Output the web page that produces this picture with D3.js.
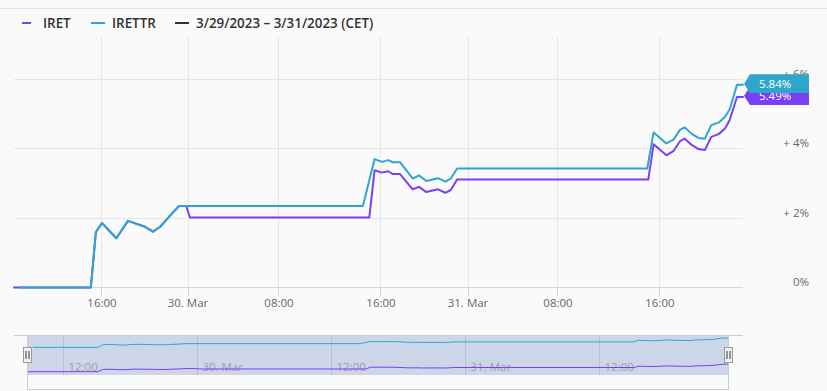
<!DOCTYPE html>
<html><head><meta charset="utf-8">
<script src="https://cdn.jsdelivr.net/npm/d3@7"></script>
<style>html,body{margin:0;padding:0;background:#fafafa;}svg{display:block}</style>
</head><body>
<svg id="c" width="827" height="391"></svg>
<script>
// ---------------- DATA ----------------
const seriesNames = ["IRET", "IRETTR"];
const legendRangeText = "3/29/2023 – 3/31/2023 (CET)";

const iretTimes = [
  "2023-03-29 08:47","2023-03-29 15:05","2023-03-29 15:30","2023-03-29 16:00","2023-03-29 17:20",
  "2023-03-29 18:25","2023-03-29 20:00","2023-03-29 20:45","2023-03-29 21:25","2023-03-29 22:30",
  "2023-03-29 23:10","2023-03-29 23:50","2023-03-30 00:10","2023-03-30 15:05","2023-03-30 15:30",
  "2023-03-30 16:05","2023-03-30 16:40","2023-03-30 17:05","2023-03-30 17:45","2023-03-30 18:55",
  "2023-03-30 19:30","2023-03-30 20:10","2023-03-30 21:15","2023-03-30 21:55","2023-03-30 22:25",
  "2023-03-30 23:00","2023-03-31 15:05","2023-03-31 15:30","2023-03-31 16:35","2023-03-31 17:15",
  "2023-03-31 17:50","2023-03-31 18:15","2023-03-31 18:55","2023-03-31 19:30","2023-03-31 20:05",
  "2023-03-31 20:40","2023-03-31 21:20","2023-03-31 21:55","2023-03-31 22:20","2023-03-31 23:00",
  "2023-03-31 23:33"];
const iretValues = [
  0, 0, 1.60, 1.86, 1.42,
  1.92, 1.75, 1.61, 1.75, 2.13,
  2.35, 2.35, 2.02, 2.02, 3.38,
  3.31, 3.35, 3.27, 3.27, 2.83,
  2.90, 2.75, 2.83, 2.73, 2.81,
  3.11, 3.11, 4.13, 3.81, 3.94,
  4.22, 4.29, 4.10, 3.99, 3.96,
  4.34, 4.42, 4.58, 4.82, 5.49,
  5.49];

const irettrTimes = [
  "2023-03-29 09:15","2023-03-29 15:05","2023-03-29 15:30","2023-03-29 16:00","2023-03-29 17:20",
  "2023-03-29 18:25","2023-03-29 20:00","2023-03-29 20:45","2023-03-29 21:25","2023-03-29 22:30",
  "2023-03-29 23:10","2023-03-29 23:50","2023-03-30 14:35","2023-03-30 15:30","2023-03-30 16:05",
  "2023-03-30 16:40","2023-03-30 17:05","2023-03-30 17:45","2023-03-30 18:55","2023-03-30 19:30",
  "2023-03-30 20:10","2023-03-30 21:15","2023-03-30 21:55","2023-03-30 22:25","2023-03-30 23:00",
  "2023-03-31 15:00","2023-03-31 15:30","2023-03-31 16:35","2023-03-31 17:15","2023-03-31 17:50",
  "2023-03-31 18:15","2023-03-31 18:55","2023-03-31 19:30","2023-03-31 20:05","2023-03-31 20:40",
  "2023-03-31 21:20","2023-03-31 21:55","2023-03-31 22:20","2023-03-31 23:00","2023-03-31 23:33"];
const irettrValues = [
  0, 0, 1.60, 1.86, 1.42,
  1.92, 1.75, 1.61, 1.75, 2.13,
  2.35, 2.35, 2.35, 3.70, 3.62,
  3.67, 3.61, 3.61, 3.14, 3.23,
  3.07, 3.15, 3.05, 3.14, 3.43,
  3.43, 4.47, 4.15, 4.27, 4.55,
  4.61, 4.42, 4.31, 4.29, 4.68,
  4.75, 4.92, 5.13, 5.84, 5.84];

// navigator shows raw index levels (relative base levels)
const navBaseLevels = [100, 118];

const xTickTimes = ["2023-03-29 16:00","2023-03-30 00:00","2023-03-30 08:00","2023-03-30 16:00",
                    "2023-03-31 00:00","2023-03-31 08:00","2023-03-31 16:00"];
const xTickLabels = ["16:00","30. Mar","08:00","16:00","31. Mar","08:00","16:00"];
const yTickValues = [0, 2, 4, 6];
const yTickLabels = ["0%", "+ 2%", "+ 4%", "+ 6%"];
const navTickTimes = ["2023-03-29 12:00","2023-03-30 00:00","2023-03-30 12:00","2023-03-31 00:00","2023-03-31 12:00"];
const navTickLabels = ["12:00","30. Mar","12:00","31. Mar","12:00"];
const rangeStart = "2023-03-29 08:47";
const rangeEnd = "2023-03-31 23:33";

// ---------------- STYLE / LAYOUT ----------------
const colors = ["#7a3ef4", "#2ea6cc"];
const W = 827, H = 391;
const plot = {left: 14, right: 743, top: 37, bottom: 287.5};
const nav = {left: 27.5, right: 728.5, top: 335, maskBottom: 375, bottom: 389.5};
const font = "'Open Sans', sans-serif";

const parse = d3.timeParse("%Y-%m-%d %H:%M");
const series = [
  {name: seriesNames[0], color: colors[0], data: iretTimes.map((t,i)=>({t: parse(t), v: iretValues[i]}))},
  {name: seriesNames[1], color: colors[1], data: irettrTimes.map((t,i)=>({t: parse(t), v: irettrValues[i]}))}
];

const svg = d3.select("#c");
svg.append("rect").attr("width", W).attr("height", H).attr("fill", "#fafafa");
svg.append("line").attr("x1", 0).attr("x2", W).attr("y1", 8.5).attr("y2", 8.5).attr("stroke", "#e6e6e6");

// main x scale (ordinal-like spacing, piecewise linear over tick anchors)
const anchorTimes = [rangeStart, ...xTickTimes, rangeEnd].map(parse);
const anchorFrac = [0, 0.1207, 0.2387, 0.3635, 0.5034, 0.6228, 0.7462, 0.8861, 1];
const x = d3.scaleTime().domain(anchorTimes)
  .range(anchorFrac.map(f => plot.left + f * (plot.right - plot.left)));
const y = d3.scaleLinear().domain([0, 6]).range([plot.bottom, 79.3]);

const crisp = v => Math.floor(v) + 0.5;

// horizontal gridlines
svg.append("g").selectAll("line").data(yTickValues.filter(v => v !== 0)).join("line")
  .attr("x1", plot.left).attr("x2", plot.right)
  .attr("y1", d => crisp(y(d))).attr("y2", d => crisp(y(d)))
  .attr("stroke", "#e6e6e6");
// vertical gridlines
const xTicks = xTickTimes.map(parse);
svg.append("g").selectAll("line").data(xTicks).join("line")
  .attr("x1", d => crisp(x(d))).attr("x2", d => crisp(x(d)))
  .attr("y1", plot.top).attr("y2", plot.bottom)
  .attr("stroke", "#e6e6e6");
// x axis line + ticks
svg.append("line").attr("x1", plot.left).attr("x2", plot.right)
  .attr("y1", plot.bottom).attr("y2", plot.bottom).attr("stroke", "#ccd6eb");
svg.append("g").selectAll("line").data(xTicks).join("line")
  .attr("x1", d => crisp(x(d))).attr("x2", d => crisp(x(d)))
  .attr("y1", plot.bottom).attr("y2", plot.bottom + 9)
  .attr("stroke", "#ccd6eb");
svg.append("g").selectAll("text").data(xTicks).join("text")
  .attr("x", d => x(d)).attr("y", 307)
  .attr("text-anchor", "middle").attr("font-family", font).attr("font-size", "11.5px")
  .attr("fill", "#666").text((d,i) => xTickLabels[i]);

// y labels (right)
svg.append("g").selectAll("text").data(yTickValues).join("text")
  .attr("x", 809).attr("y", d => y(d) - 1.5)
  .attr("text-anchor", "end").attr("font-family", font).attr("font-size", "11.5px")
  .attr("fill", "#666").text((d,i) => yTickLabels[i]);

// series lines
const line = d3.line().x(d => x(d.t)).y(d => y(d.v));
series.forEach(s => {
  svg.append("path").datum(s.data).attr("d", line)
    .attr("fill", "none").attr("stroke", s.color).attr("stroke-width", 2)
    .attr("stroke-linejoin", "round").attr("stroke-linecap", "round");
});

// last value flags
series.forEach(s => {
  const last = s.data[s.data.length - 1];
  const cy = y(last.v) - 1.2;
  const tx = x(last.t) + 1;
  const g = svg.append("g");
  g.append("path")
    .attr("d", `M${tx},${cy} L${tx+6},${cy-9.3} L809,${cy-9.3} L809,${cy+9.3} L${tx+6},${cy+9.3} Z`)
    .attr("fill", s.color);
  g.append("text").attr("x", tx + 15).attr("y", cy + 4.2)
    .attr("font-family", font).attr("font-size", "11.5px").attr("fill", "#fff")
    .text(d3.format(".2f")(last.v) + "%");
});

// legend
const legend = svg.append("g").attr("font-family", font).attr("font-size", "13.4px")
  .attr("font-weight", 600).attr("fill", "#333");
const legItems = [
  {sym: [22, 31], tx: 43, color: colors[0], label: seriesNames[0]},
  {sym: [91, 105], tx: 112, color: colors[1], label: seriesNames[1]},
  {sym: [175, 189], tx: 196, color: "#333", label: legendRangeText}
];
legItems.forEach(it => {
  legend.append("line").attr("x1", it.sym[0]).attr("x2", it.sym[1]).attr("y1", 23).attr("y2", 23)
    .attr("stroke", it.color).attr("stroke-width", 2);
  legend.append("text").attr("x", it.tx).attr("y", 27.5).text(it.label);
});

// ---------------- NAVIGATOR ----------------
const nx = d3.scaleTime().domain([parse(rangeStart), parse(rangeEnd)]).range([nav.left, nav.right]);
const ny = d3.scaleLinear().domain([100, 125.6]).range([371.7, 337.1]);
// mask (selected range = full)
svg.append("rect").attr("x", nav.left).attr("y", nav.top)
  .attr("width", nav.right - nav.left).attr("height", nav.maskBottom - nav.top)
  .attr("fill", "rgba(102,133,194,0.3)");
const navTicks = navTickTimes.map(parse);
svg.append("g").selectAll("line").data(navTicks).join("line")
  .attr("x1", d => crisp(nx(d))).attr("x2", d => crisp(nx(d)))
  .attr("y1", nav.top).attr("y2", nav.maskBottom)
  .attr("stroke", "#b3bfd3");
svg.append("g").selectAll("text").data(navTicks).join("text")
  .attr("x", d => nx(d) + 5).attr("y", 371)
  .attr("font-family", font).attr("font-size", "11.5px")
  .attr("fill", "#999").attr("opacity", 0.9).text((d,i) => navTickLabels[i]);
const navLine = base => d3.line().x(d => nx(d.t)).y(d => ny(base * (1 + d.v / 100)));
series.forEach((s, i) => {
  svg.append("path").datum(s.data).attr("d", navLine(navBaseLevels[i]))
    .attr("fill", "none").attr("stroke", s.color).attr("stroke-width", 1);
});
// outline
svg.append("path")
  .attr("d", `M${plot.left},${nav.top + 0.5} L${nav.left},${nav.top + 0.5} L${nav.left},${nav.bottom} L${nav.right},${nav.bottom} L${nav.right},${nav.top + 0.5} L${plot.right},${nav.top + 0.5}`)
  .attr("fill", "none").attr("stroke", "#cccccc");
svg.append("line").attr("x1", nav.left).attr("x2", nav.right).attr("y1", nav.top + 0.5).attr("y2", nav.top + 0.5)
  .attr("stroke", "#cccccc");
// handles
[nav.left, nav.right].forEach(hx => {
  const g = svg.append("g");
  g.append("rect").attr("x", Math.round(hx) - 4.5).attr("y", 347.5).attr("width", 8).attr("height", 15)
    .attr("fill", "#f2f2f2").attr("stroke", "#999");
  [-1.5, 1.5].forEach(dx => g.append("line")
    .attr("x1", Math.round(hx) - 0.5 + dx).attr("x2", Math.round(hx) - 0.5 + dx)
    .attr("y1", 351).attr("y2", 359).attr("stroke", "#333"));
});
</script>
</body></html>
